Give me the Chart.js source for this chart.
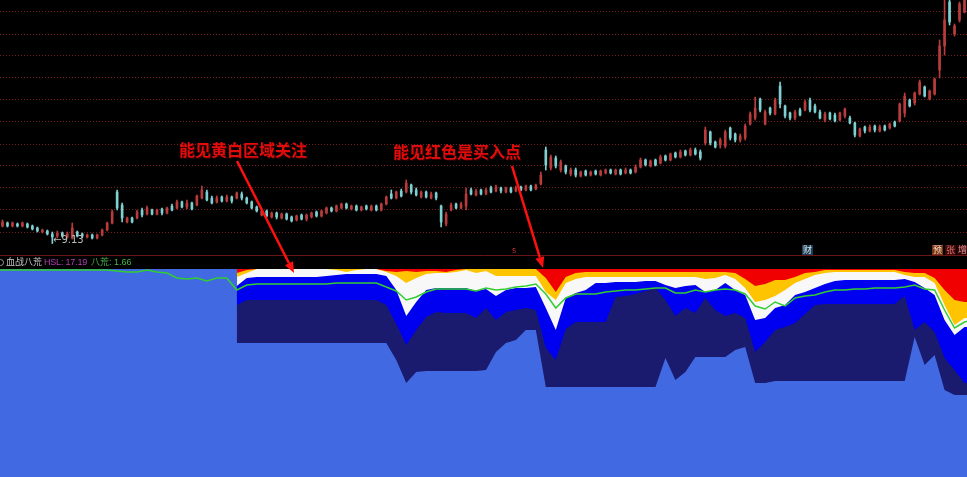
<!DOCTYPE html>
<html>
<head>
<meta charset="utf-8">
<script src="https://cdn.jsdelivr.net/npm/chart.js@4.4.0/dist/chart.umd.min.js"></script>
<style>
body { margin: 0; background: #000; }
#wrap { position: relative; width: 967px; height: 477px; overflow: hidden; background: #000; }
#wrap canvas { position: absolute; left: 0; top: 0; }
.t { position: absolute; white-space: nowrap; font-family: "Liberation Sans", "Noto Sans CJK SC", sans-serif; }
.note { font-family: "Noto Sans CJK SC", sans-serif; font-size: 16px; line-height: 16px; font-weight: bold; color: #e00c0c; text-shadow: 1px 1px 0 #3a0000; }
.hdr { top: 256px; font-size: 9px; line-height: 13px; }
.tag { top: 245px; font-family: "Noto Sans CJK SC", sans-serif; font-size: 9px; line-height: 10px; padding: 0 1px; }
</style>
</head>
<body>
<div id="wrap">
  <canvas id="chart" width="967" height="477"></canvas>
  <div class="t note" style="left:179px;top:141px">能见黄白区域关注</div>
  <div class="t note" style="left:393px;top:143px">能见红色是买入点</div>
  <div class="t" style="left:53px;top:234px;font-family:'DejaVu Sans',sans-serif;font-size:10px;line-height:11px;color:#bbbbbb">←9.13</div>
  <div style="position:absolute;left:-3px;top:259px;width:5px;height:5px;border:1px solid #9a9a9a;border-radius:50%"></div>
  <div class="t hdr" style="left:6px;color:#c8c8c8">血战八荒</div>
  <div class="t hdr" style="left:44px;color:#b43cb4;letter-spacing:-0.2px">HSL: 17.19</div>
  <div class="t hdr" style="left:91px;color:#46b446">八荒: 1.66</div>
  <div class="t tag" style="left:511px;color:#c83030">s</div>
  <div class="t tag" style="left:802px;color:#d8e4ec;background:#1d3f55">财</div>
  <div class="t tag" style="left:932px;color:#f4dcc4;background:#7a3414">预</div>
  <div class="t tag" style="left:945px;color:#e07070;background:#3a0a0a">张</div>
  <div class="t tag" style="left:957px;color:#f09090;background:#2a0505">增</div>
</div>
<script>
// K线
const open = [
  9.48, 9.54, 9.48, 9.52, 9.48, 9.52, 9.48, 9.44, 9.36, 9.38,
  9.32, 9.28, 9.34, 9.26, 9.24, 9.36, 9.32, 9.26, 9.30, 9.24,
  9.30, 9.40, 9.54, 10.16, 9.90, 9.56, 9.64, 9.64, 9.80, 9.72,
  9.80, 9.72, 9.82, 9.74, 9.88, 9.84, 9.96, 9.86, 9.94, 9.90,
  10.04, 10.16, 10.04, 9.96, 10.06, 9.98, 10.06, 10.04, 10.12, 10.04,
  9.96, 9.86, 9.70, 9.78, 9.66, 9.74, 9.64, 9.72, 9.66, 9.60,
  9.70, 9.62, 9.66, 9.76, 9.68, 9.74, 9.84, 9.78, 9.84, 9.92,
  9.82, 9.88, 9.80, 9.88, 9.80, 9.88, 9.80, 9.92, 10.12, 10.04,
  10.18, 10.16, 10.30, 10.20, 10.06, 10.16, 10.04, 10.14, 9.88, 9.52,
  9.80, 9.92, 9.84, 9.88, 10.20, 10.10, 10.20, 10.12, 10.24, 10.18,
  10.24, 10.16, 10.24, 10.18, 10.26, 10.20, 10.28, 10.22, 10.32, 11.00,
  10.64, 10.84, 10.60, 10.68, 10.52, 10.60, 10.48, 10.58, 10.50, 10.58,
  10.50, 10.54, 10.60, 10.52, 10.60, 10.54, 10.60, 10.56, 10.66, 10.80,
  10.68, 10.80, 10.74, 10.88, 10.80, 10.94, 10.86, 10.98, 10.90, 11.00,
  10.96, 11.14, 11.36, 11.16, 11.10, 11.08, 11.44, 11.32, 11.20, 11.24,
  11.52, 11.64, 12.02, 11.52, 11.84, 11.72, 12.28, 11.88, 11.74, 11.64,
  11.80, 11.80, 12.00, 11.88, 11.76, 11.60, 11.74, 11.70, 11.60, 11.68,
  11.64, 11.54, 11.28, 11.46, 11.38, 11.48, 11.38, 11.48, 11.44, 11.56,
  11.58, 11.74, 12.00, 11.94, 12.12, 12.26, 12.02, 12.12, 12.60, 13.08,
  13.96, 13.32, 13.60, 13.76
];
const close = [
  9.56, 9.48, 9.54, 9.48, 9.54, 9.46, 9.42, 9.38, 9.40, 9.32,
  9.26, 9.34, 9.28, 9.32, 9.44, 9.28, 9.28, 9.30, 9.24, 9.30,
  9.40, 9.54, 9.76, 9.84, 9.64, 9.64, 9.56, 9.76, 9.70, 9.84,
  9.72, 9.80, 9.74, 9.84, 9.80, 9.96, 9.86, 9.94, 9.82, 10.08,
  10.20, 10.00, 9.94, 10.04, 9.98, 10.06, 9.98, 10.14, 10.04, 9.94,
  9.84, 9.78, 9.78, 9.68, 9.74, 9.66, 9.72, 9.62, 9.58, 9.68,
  9.62, 9.70, 9.74, 9.68, 9.78, 9.84, 9.78, 9.88, 9.92, 9.84,
  9.88, 9.80, 9.86, 9.82, 9.88, 9.80, 9.92, 10.06, 10.04, 10.16,
  10.08, 10.34, 10.16, 10.10, 10.16, 10.06, 10.12, 10.04, 9.56, 9.72,
  9.90, 9.84, 9.92, 10.12, 10.12, 10.18, 10.12, 10.20, 10.16, 10.26,
  10.18, 10.24, 10.16, 10.24, 10.20, 10.28, 10.20, 10.30, 10.50, 10.70,
  10.86, 10.68, 10.76, 10.56, 10.60, 10.50, 10.56, 10.50, 10.56, 10.52,
  10.58, 10.60, 10.54, 10.60, 10.52, 10.60, 10.54, 10.66, 10.80, 10.70,
  10.78, 10.70, 10.86, 10.80, 10.92, 10.86, 10.96, 10.90, 11.00, 10.92,
  10.84, 11.40, 11.14, 11.06, 11.20, 11.36, 11.24, 11.20, 11.28, 11.48,
  11.72, 11.84, 11.80, 11.76, 11.74, 12.00, 11.92, 11.68, 11.64, 11.76,
  11.70, 11.96, 11.80, 11.76, 11.64, 11.72, 11.62, 11.58, 11.74, 11.82,
  11.54, 11.30, 11.42, 11.38, 11.46, 11.40, 11.46, 11.40, 11.52, 11.48,
  11.92, 12.08, 11.88, 12.14, 12.36, 12.08, 12.18, 12.42, 13.08, 13.60,
  13.56, 13.48, 13.92, 14.10
];
const high = [
  9.60, 9.56, 9.56, 9.54, 9.56, 9.54, 9.50, 9.46, 9.42, 9.40,
  9.36, 9.38, 9.36, 9.36, 9.54, 9.38, 9.34, 9.32, 9.32, 9.32,
  9.42, 9.56, 9.80, 10.20, 9.94, 9.66, 9.66, 9.80, 9.84, 9.88,
  9.82, 9.82, 9.84, 9.86, 9.92, 10.00, 9.98, 10.00, 9.96, 10.10,
  10.28, 10.20, 10.08, 10.08, 10.08, 10.10, 10.08, 10.16, 10.16, 10.06,
  9.98, 9.88, 9.82, 9.80, 9.76, 9.76, 9.74, 9.74, 9.68, 9.70,
  9.72, 9.72, 9.76, 9.78, 9.80, 9.86, 9.86, 9.90, 9.94, 9.94,
  9.90, 9.90, 9.88, 9.90, 9.90, 9.90, 9.94, 10.08, 10.20, 10.18,
  10.22, 10.40, 10.32, 10.24, 10.18, 10.18, 10.16, 10.16, 9.90, 9.76,
  9.94, 9.94, 9.96, 10.24, 10.24, 10.22, 10.22, 10.24, 10.28, 10.30,
  10.26, 10.26, 10.26, 10.28, 10.28, 10.30, 10.30, 10.32, 10.56, 11.06,
  10.90, 10.88, 10.80, 10.70, 10.64, 10.64, 10.58, 10.60, 10.58, 10.60,
  10.60, 10.62, 10.62, 10.62, 10.62, 10.64, 10.62, 10.70, 10.84, 10.82,
  10.80, 10.82, 10.90, 10.90, 10.94, 10.96, 11.00, 11.00, 11.04, 11.04,
  11.00, 11.46, 11.38, 11.18, 11.24, 11.40, 11.46, 11.34, 11.32, 11.52,
  11.76, 12.06, 12.04, 11.80, 11.86, 12.04, 12.36, 11.90, 11.76, 11.80,
  11.84, 12.00, 12.04, 11.92, 11.80, 11.76, 11.76, 11.74, 11.76, 11.84,
  11.68, 11.56, 11.44, 11.48, 11.50, 11.50, 11.50, 11.50, 11.54, 11.58,
  11.94, 12.14, 12.02, 12.16, 12.40, 12.28, 12.20, 12.44, 13.20, 14.20,
  14.20, 13.52, 13.96, 14.20
];
const low = [
  9.46, 9.46, 9.46, 9.46, 9.46, 9.44, 9.40, 9.36, 9.34, 9.30,
  9.13, 9.24, 9.26, 9.24, 9.22, 9.26, 9.24, 9.24, 9.22, 9.22,
  9.28, 9.38, 9.52, 9.80, 9.56, 9.54, 9.54, 9.62, 9.66, 9.70,
  9.70, 9.70, 9.70, 9.72, 9.78, 9.82, 9.84, 9.82, 9.80, 9.88,
  10.02, 9.98, 9.92, 9.94, 9.96, 9.96, 9.94, 10.02, 10.00, 9.92,
  9.82, 9.76, 9.68, 9.66, 9.64, 9.62, 9.62, 9.60, 9.56, 9.58,
  9.60, 9.58, 9.64, 9.66, 9.66, 9.72, 9.76, 9.76, 9.82, 9.82,
  9.80, 9.78, 9.78, 9.80, 9.78, 9.78, 9.78, 9.90, 10.02, 10.02,
  10.06, 10.14, 10.12, 10.08, 10.04, 10.04, 10.02, 10.00, 9.46, 9.48,
  9.78, 9.82, 9.82, 9.80, 10.10, 10.08, 10.10, 10.10, 10.14, 10.16,
  10.14, 10.14, 10.14, 10.16, 10.18, 10.18, 10.18, 10.20, 10.30, 10.60,
  10.60, 10.64, 10.56, 10.52, 10.48, 10.46, 10.46, 10.48, 10.48, 10.50,
  10.48, 10.52, 10.52, 10.50, 10.50, 10.52, 10.52, 10.54, 10.64, 10.68,
  10.66, 10.68, 10.72, 10.78, 10.78, 10.84, 10.84, 10.88, 10.88, 10.90,
  10.80, 11.10, 11.10, 11.04, 11.04, 11.04, 11.20, 11.16, 11.16, 11.20,
  11.50, 11.60, 11.76, 11.50, 11.70, 11.70, 11.84, 11.64, 11.60, 11.60,
  11.68, 11.78, 11.76, 11.74, 11.62, 11.56, 11.60, 11.56, 11.58, 11.64,
  11.52, 11.26, 11.26, 11.34, 11.36, 11.36, 11.36, 11.38, 11.42, 11.46,
  11.56, 11.66, 11.86, 11.90, 12.10, 12.06, 12.00, 12.10, 12.44, 12.90,
  13.50, 13.28, 13.56, 13.74
];
const gridPrices = [13.76, 13.32, 12.88, 12.44, 12.00, 11.56, 11.12, 10.68, 10.24, 9.80, 9.36];

// 血战八荒 分层 (每两根K线取一个值)
const redEdge = [
  98, 99.5, 100, 100, 100, 100, 100, 100, 100, 100,
  100, 100, 100, 100, 100, 99, 98.5, 99, 98.5, 99,
  99, 98.5, 99.5, 100, 100, 100, 100, 100, 100, 100,
  100, 95.5, 88.5, 96, 98, 98.5, 98.5, 98.5, 98.5, 98.5,
  98.5, 98.5, 98.5, 98.5, 98.5, 98.5, 98.5, 98.5, 98.5, 98.5,
  98, 95, 91.5, 92.5, 94.5, 94.5, 96, 98, 98.5, 99.5,
  99.5, 99.5, 99.5, 99.5, 99.5, 99.5, 99.5, 98.5, 98, 98,
  95.5, 89.5, 84.5, 83.5, 83.5
];
const yellowEdge = [
  96, 98, 100, 100, 100, 100, 100, 100, 100, 100,
  99.5, 98.5, 99.5, 100, 100, 98.5, 96.5, 93, 95.5, 97.5,
  98, 98, 98.5, 99.5, 98, 99, 96.5, 96.5, 96.5, 96.5,
  96.5, 88.5, 84.5, 93, 95, 96, 96, 96, 96, 96,
  96, 96, 96, 96, 96, 96, 96, 95, 95.5, 97,
  95, 90.5, 83.5, 84.5, 86.5, 89.5, 93, 95, 97, 98,
  98.5, 98.5, 98.5, 98.5, 98.5, 98.5, 98.5, 97, 96, 96,
  93, 82, 72, 75.5, 75.5
];
const whiteEdge = [
  91.5, 95.5, 96, 96, 96, 96, 96, 96, 96, 96.5,
  97, 97.5, 97.5, 97.5, 97.5, 96.5, 89.5, 76.5, 83.5, 89.5,
  90.5, 90.5, 90.5, 90.5, 89, 90, 86.5, 89.5, 90.5, 90.5,
  91, 80.5, 69.5, 85.5, 88, 89.5, 93, 93, 93.5, 93.5,
  93.5, 94, 94, 92, 90.5, 91.5, 92, 88.5, 89.5, 93,
  89.5, 87, 74.5, 75.5, 80.5, 82, 87, 88.5, 90.5, 92.5,
  94, 94.5, 94.5, 94.5, 94.5, 94.5, 94.5, 95, 93.5, 90.5,
  87, 74.5, 67, 71, 71
];
const blueEdge = [
  82, 84.5, 84.5, 84.5, 84.5, 84.5, 84.5, 84.5, 84.5, 84.5,
  84.5, 84.5, 84.5, 84.5, 84.5, 82, 72.5, 62, 69.5, 76,
  78.5, 78, 78, 78, 75.5, 80.5, 74.5, 78.5, 79.5, 80.5,
  79.5, 60.5, 54.5, 70, 73.5, 73.5, 73.5, 73.5, 86, 86.5,
  87.5, 89, 90.5, 84.5, 76.5, 80.5, 78, 85.5, 79.5, 76.5,
  78, 75.5, 58.5, 63.5, 69.5, 71, 73, 77.5, 82, 82.5,
  82.5, 82.5, 82.5, 82.5, 82.5, 82.5, 82.5, 86.5, 69.5, 73.5,
  68.5, 55.5, 49.5, 43, 43
];
const navyEdge = [
  63, 63, 63, 63, 63, 63, 63, 63, 63, 63,
  63, 63, 63, 63, 63, 63, 54.5, 43, 48.5, 49,
  49, 49, 49, 49, 49, 49.5, 58.5, 63, 64.5, 69.5,
  69.5, 41, 41, 41, 41, 41, 41, 41, 41, 41,
  41, 41, 41, 55.5, 44.5, 48.5, 56, 56, 56, 56,
  59.5, 61, 43, 43, 44, 44, 44, 44, 44, 44,
  44, 44, 44, 44, 44, 44, 44, 44, 66, 52,
  57, 39.5, 37, 37, 37
];
const baHuang = [
  99.5, 99.5, 99.5, 99.5, 99.5, 99.5, 99.5, 99.5, 99.5, 99.5,
  99.5, 99.5, 99, 98.5, 98.5, 99.5, 98.5, 98, 95.5, 95,
  95.5, 94, 95.5, 95.5, 89.5, 92, 92.5, 92.5, 92.5, 92.5,
  92.5, 92.5, 92.5, 92.5, 93, 93, 93, 93, 93, 91,
  89, 84.5, 86, 88.5, 90, 90, 90, 90, 89, 90.5,
  89.5, 90, 91, 91.5, 92.5, 87.5, 80.5, 85.5, 87.5, 87.5,
  87.5, 88.5, 89, 89.5, 89.5, 90, 90.5, 90.5, 88, 88,
  89.5, 88.5, 89.5, 90, 89.5, 87.5, 81.5, 80, 83.5, 81.5,
  85.5, 86.5, 87, 88.5, 89.5, 89.5, 90, 90, 90.5, 90.5,
  90.5, 91, 92, 90, 89.5, 79.5, 70.5, 73.5, 74.5
];

const bars = Array.from({ length: open.length }, (_, i) => i);
const layerIdx = Array.from({ length: redEdge.length }, (_, k) => 47 + 2 * k);
const greenIdx = Array.from({ length: baHuang.length }, (_, k) => -1 + 2 * k);

const UP = '#b83c3c';
const DOWN = '#7fd0d0';
const candleColor = ctx => close[ctx.dataIndex] >= open[ctx.dataIndex] ? UP : DOWN;

const layer = (label, edge, color, order) => ({
  type: 'line',
  label: label,
  data: layerIdx.map((x, i) => ({ x: x, y: edge[i] })),
  yAxisID: 'yInd',
  backgroundColor: color,
  borderWidth: 0,
  pointRadius: 0,
  tension: 0,
  fill: { value: 100 },
  order: order
});

// 背景和分隔线
const panelBg = {
  id: 'panelBg',
  beforeDraw(chart) {
    const { ctx, width, height } = chart;
    const top = chart.scales.yInd.getPixelForValue(100);
    const sep = Math.round(chart.scales.y.getPixelForValue(8.89)) + 0.5;
    ctx.save();
    ctx.fillStyle = '#000';
    ctx.fillRect(0, 0, width, height);
    ctx.fillStyle = '#4169e1';
    ctx.fillRect(0, top, width, height - top);
    ctx.strokeStyle = '#6b1616';
    ctx.lineWidth = 1;
    ctx.beginPath();
    ctx.moveTo(0, sep);
    ctx.lineTo(width, sep);
    ctx.stroke();
    ctx.restore();
  }
};

// 红色箭头
const arrows = [[237, 161, 294, 273], [512, 166, 543, 268]];
const arrowPlugin = {
  id: 'arrows',
  afterDraw(chart) {
    const ctx = chart.ctx;
    ctx.save();
    ctx.strokeStyle = '#ff1010';
    ctx.fillStyle = '#ff1010';
    ctx.lineWidth = 2.5;
    arrows.forEach(([x1, y1, x2, y2]) => {
      const a = Math.atan2(y2 - y1, x2 - x1);
      const len = 11, w = 4.5;
      const bx = x2 - Math.cos(a) * len, by = y2 - Math.sin(a) * len;
      ctx.beginPath();
      ctx.moveTo(x1, y1);
      ctx.lineTo(bx, by);
      ctx.stroke();
      ctx.beginPath();
      ctx.moveTo(x2, y2);
      ctx.lineTo(bx + Math.sin(a) * w, by - Math.cos(a) * w);
      ctx.lineTo(bx - Math.sin(a) * w, by + Math.cos(a) * w);
      ctx.closePath();
      ctx.fill();
    });
    ctx.restore();
  }
};

new Chart(document.getElementById('chart'), {
  type: 'bar',
  data: {
    datasets: [
      layer('红', redEdge, '#f00000', 1),
      layer('黄', yellowEdge, '#ffc400', 2),
      layer('白', whiteEdge, '#f8f8f8', 3),
      layer('蓝', blueEdge, '#0000f0', 4),
      layer('深蓝', navyEdge, '#1a1a6e', 5),
      {
        type: 'line',
        label: '八荒',
        data: greenIdx.map((x, i) => ({ x: x, y: baHuang[i] })),
        yAxisID: 'yInd',
        borderColor: '#32cd32',
        borderWidth: 1.5,
        pointRadius: 0,
        tension: 0,
        fill: false,
        order: 0
      },
      {
        label: 'wick',
        data: bars.map(i => ({ x: i, y: [low[i], high[i]] })),
        yAxisID: 'y',
        backgroundColor: candleColor,
        barThickness: 1,
        grouped: false,
        order: 10
      },
      {
        label: 'body',
        data: bars.map(i => ({ x: i, y: [open[i], close[i]] })),
        yAxisID: 'y',
        backgroundColor: candleColor,
        barThickness: 2,
        grouped: false,
        order: 9
      }
    ]
  },
  options: {
    responsive: false,
    animation: false,
    layout: { padding: 0 },
    plugins: {
      legend: { display: false },
      tooltip: { enabled: false }
    },
    scales: {
      x: { type: 'linear', min: -0.5, max: 193.5, offset: false, display: false },
      y: {
        min: 4.46,
        max: 14,
        ticks: { display: false },
        grid: { color: '#761c1c', drawTicks: false, lineWidth: 1 },
        border: { display: false, dash: [1, 2] },
        afterBuildTicks: scale => { scale.ticks = gridPrices.map(v => ({ value: v })); }
      },
      yInd: { min: -4, max: 234.5, display: false }
    }
  },
  plugins: [panelBg, arrowPlugin]
});
</script>
</body>
</html>
